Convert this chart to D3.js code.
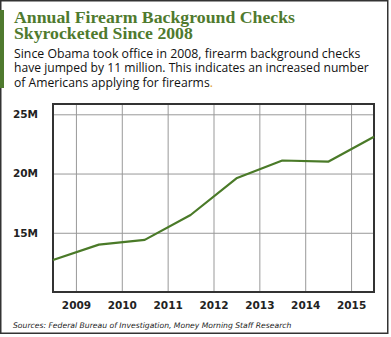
<!DOCTYPE html>
<html>
<head>
<meta charset="utf-8">
<script src="https://cdn.jsdelivr.net/npm/d3@7"></script>
<style>
html,body{margin:0;padding:0;background:#fff;}
svg{display:block;}
</style>
</head>
<body>
<svg id="chart" width="391" height="337"></svg>
<script>
// ---- data ----
const years = [2008, 2009, 2010, 2011, 2012, 2013, 2014, 2015];
const checksMillions = [12.7, 14.0, 14.4, 16.5, 19.6, 21.1, 21.0, 23.1];
const xTickLabels = ["2009", "2010", "2011", "2012", "2013", "2014", "2015"];
const yTickValues = [15, 20, 25];
const titleLines = ["Annual Firearm Background Checks", "Skyrocketed Since 2008"];
const subtitleLines = [
  "Since Obama took office in 2008, firearm background checks",
  "have jumped by 11 million. This indicates an increased number",
  "of Americans applying for firearms"
];
const sourceText = "Sources: Federal Bureau of Investigation, Money Morning Staff Research";

// ---- layout ----
const svg = d3.select("#chart");
const plot = {left: 53, right: 374, top: 104, bottom: 292};
const green = "#4f7a2e";

// fit a text's font-size so its natural width equals target
function fitText(sel, target, base) {
  sel.attr("font-size", base);
  const w = sel.node().getComputedTextLength();
  sel.attr("font-size", base * target / w);
}

// outer frame
svg.append("rect").attr("x", 0.75).attr("y", 0.75).attr("width", 387).attr("height", 332.5)
  .attr("fill", "#fff").attr("stroke", "#333").attr("stroke-width", 1.5);
// green accent bar
svg.append("rect").attr("x", 0).attr("y", 10).attr("width", 4).attr("height", 78).attr("fill", green);

// title
const titleW = [281, 179];
titleLines.forEach((t, i) => {
  const tt = svg.append("text").attr("x", 14).attr("y", 23 + i * 16)
    .attr("font-family", "'Liberation Serif', 'DejaVu Serif', serif")
    .attr("font-weight", "bold").attr("fill", green)
    .text(t);
  fitText(tt, titleW[i], 17);
});
// subtitle
const subW = [347, 355, 199];
subtitleLines.forEach((t, i) => {
  const st = svg.append("text").attr("x", 14).attr("y", 57.5 + i * 14.8)
    .attr("font-family", "'Open Sans', 'Noto Sans', sans-serif")
    .attr("fill", "#111");
  st.append("tspan").text(t);
  if (i === subtitleLines.length - 1) st.append("tspan").attr("fill", "#e0a030").text(".");
  fitText(st, subW[i], 13);
});

// scales
const x = d3.scaleLinear().domain([years[0], years[years.length - 1]]).range([plot.left, plot.right]);
const y = d3.scaleLinear().domain([10, 25.87]).range([plot.bottom, plot.top]);
const xTickPos = xTickLabels.map((l, i) => years[i] + 0.5);

// x axis with vertical grid
const gx = svg.append("g").attr("transform", `translate(0,${plot.bottom})`)
  .call(d3.axisBottom(x).tickValues(xTickPos).tickFormat((d, i) => xTickLabels[i])
    .tickSize(-(plot.bottom - plot.top)).tickPadding(7));
gx.select(".domain").remove();
gx.selectAll("line").attr("stroke", "#999").attr("stroke-width", 1);
gx.selectAll("text").attr("font-family", "'DejaVu Sans', Verdana, sans-serif")
  .attr("font-weight", "bold").attr("font-size", 10.5).attr("fill", "#222")
  .attr("dy", "0.71em").attr("y", 10);

// y axis with horizontal grid
const gy = svg.append("g").attr("transform", `translate(${plot.left},0)`)
  .call(d3.axisLeft(y).tickValues(yTickValues).tickFormat(d => d + "M")
    .tickSize(-(plot.right - plot.left)).tickPadding(15));
gy.select(".domain").remove();
gy.selectAll("line").attr("stroke", "#999").attr("stroke-width", 1);
gy.selectAll("text").attr("font-family", "'DejaVu Sans', Verdana, sans-serif")
  .attr("font-weight", "bold").attr("font-size", 10.5).attr("fill", "#222");

// plot frame
svg.append("rect").attr("x", plot.left).attr("y", plot.top)
  .attr("width", plot.right - plot.left).attr("height", plot.bottom - plot.top)
  .attr("fill", "none").attr("stroke", "#333").attr("stroke-width", 2);

// line
const line = d3.line().x((d, i) => x(years[i])).y(d => y(d));
svg.append("path").datum(checksMillions).attr("d", line)
  .attr("fill", "none").attr("stroke", "#4a7a28").attr("stroke-width", 2.2)
  .attr("stroke-linejoin", "round");

// source
const src = svg.append("text").attr("x", 13).attr("y", 328)
  .attr("font-family", "'DejaVu Sans', Verdana, sans-serif").attr("font-style", "italic")
  .attr("fill", "#222").text(sourceText);
fitText(src, 279, 8.5);
</script>
</body>
</html>
